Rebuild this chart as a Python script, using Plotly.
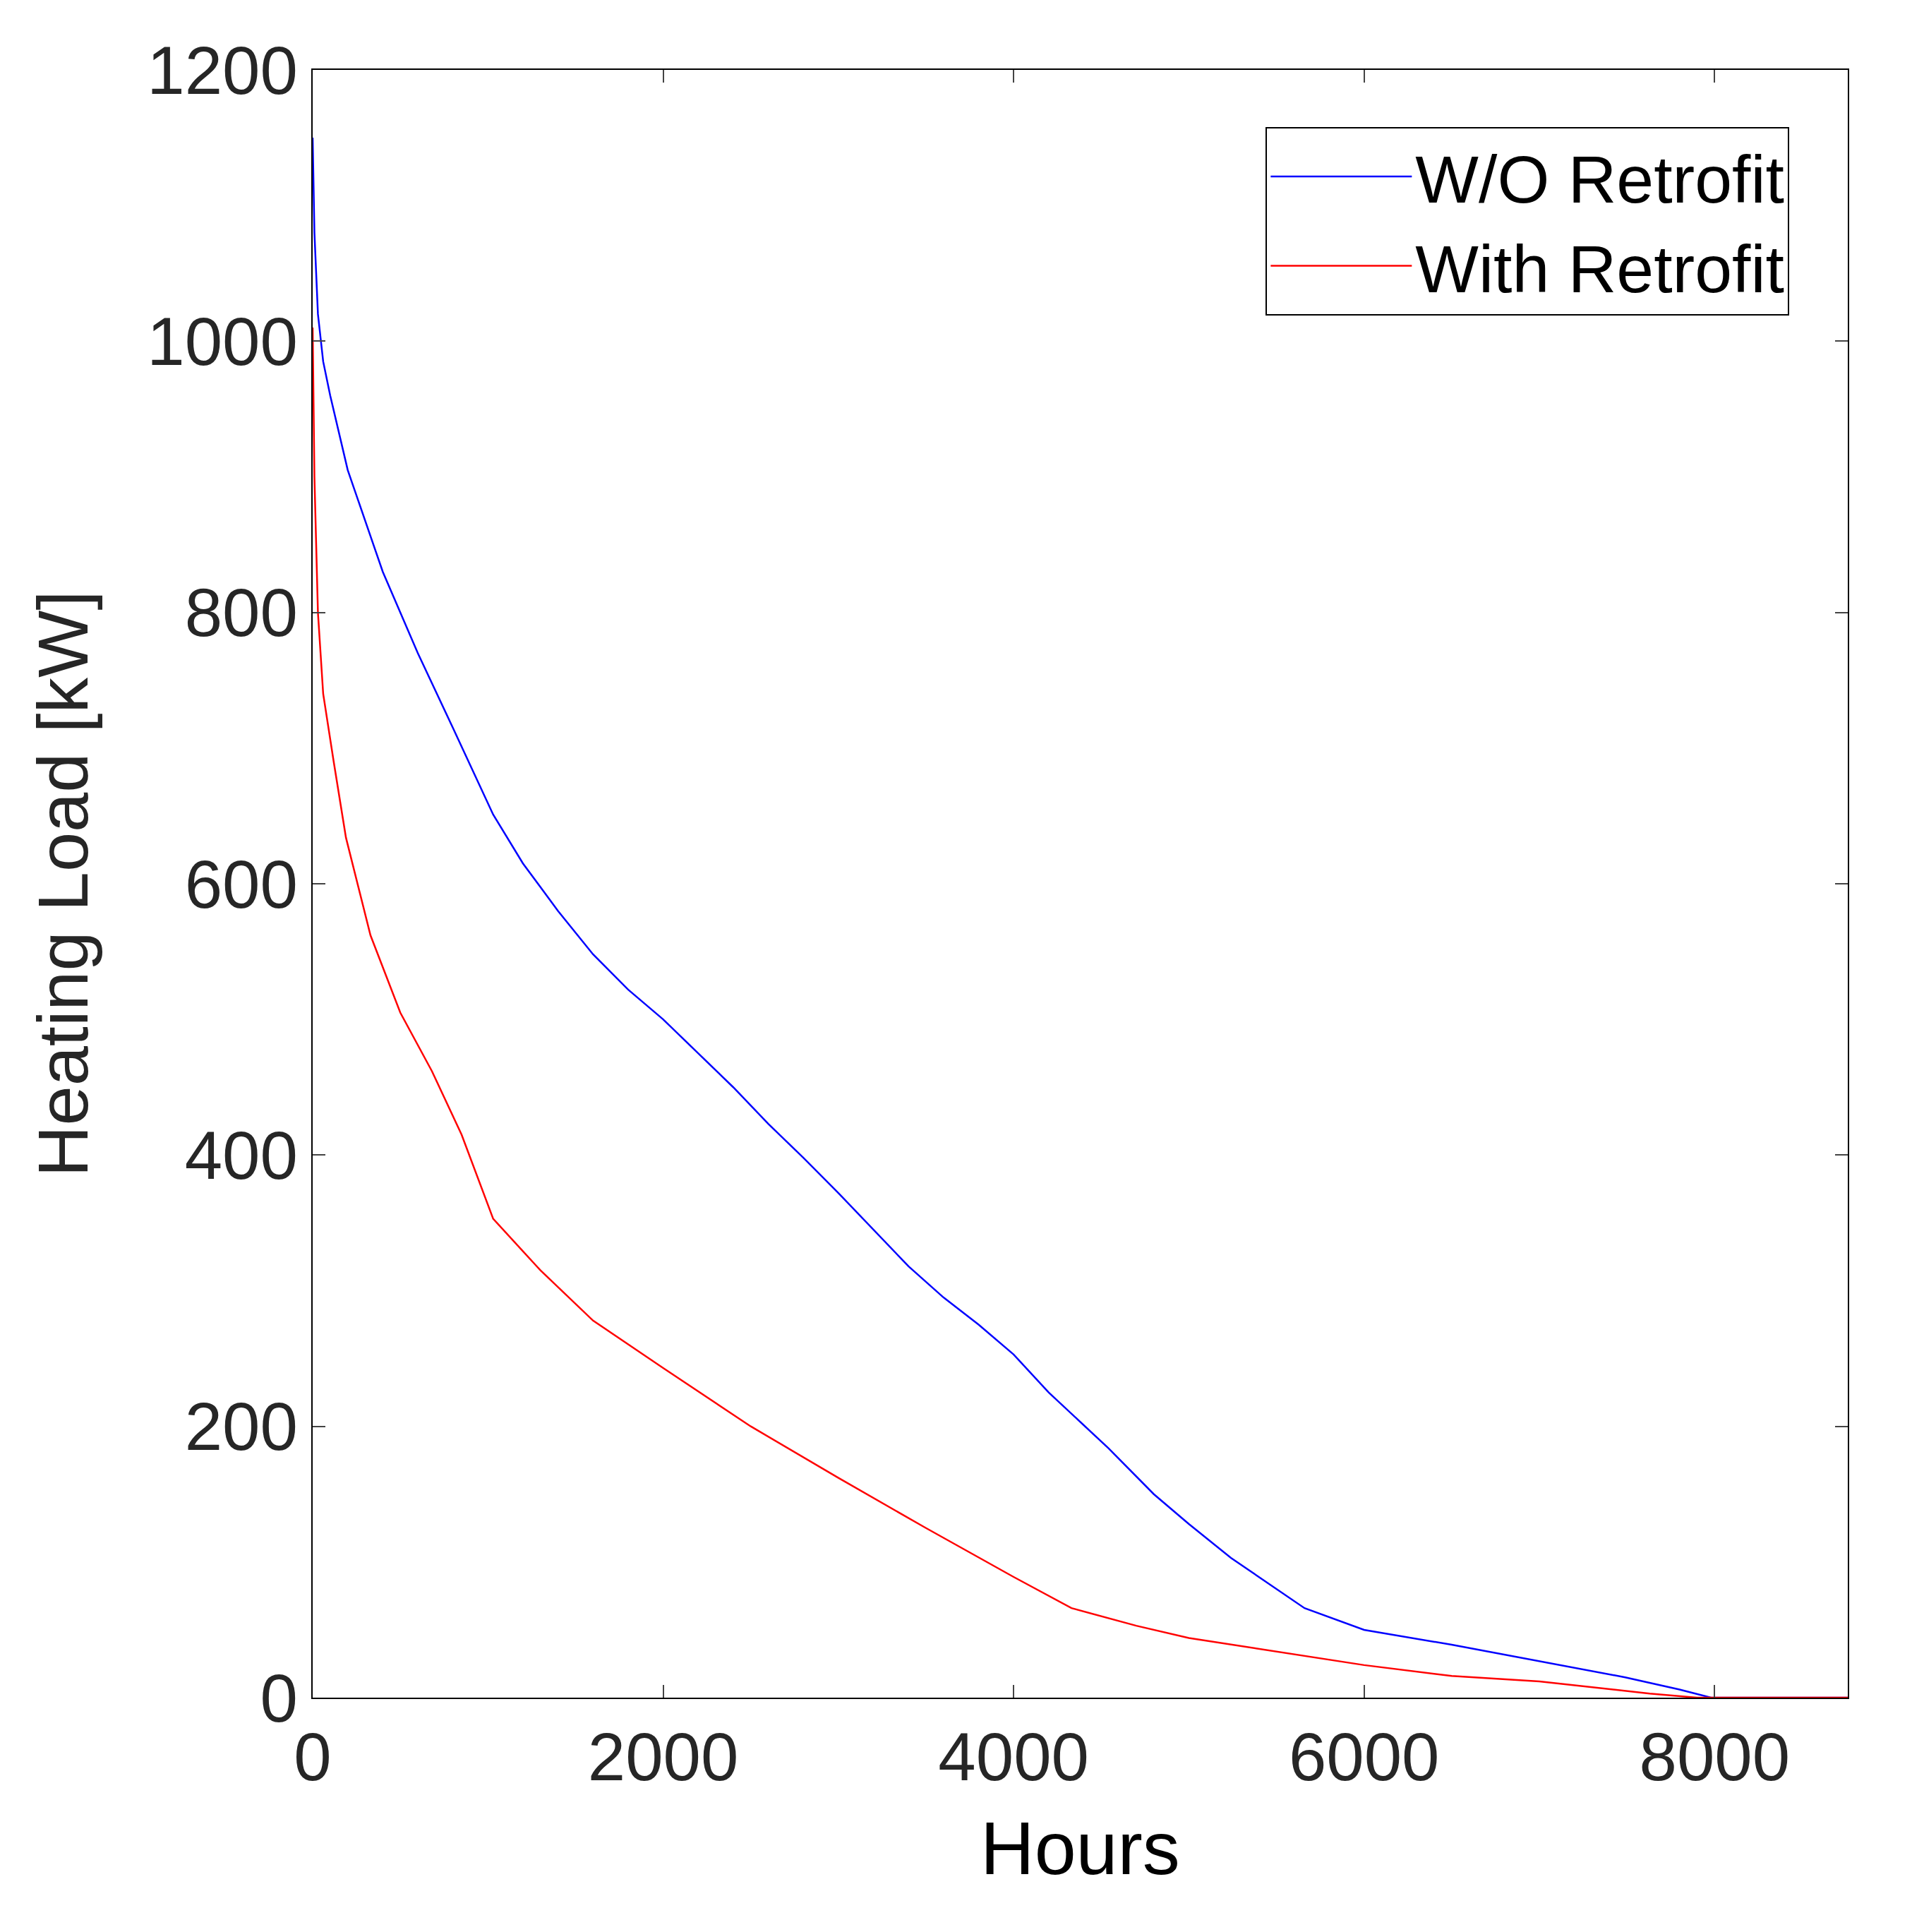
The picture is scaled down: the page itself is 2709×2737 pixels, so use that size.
import plotly.graph_objects as go

hours_blue = [0, 10, 30, 60, 100, 200, 400, 600, 800, 1030, 1200, 1400, 1600, 1800, 2000, 2200, 2400, 2600, 2800, 3000, 3200, 3400, 3600, 3800, 4000, 4200, 4540, 4800, 5000, 5240, 5660, 6000, 6500, 7000, 7490, 7800, 7980, 8760]
load_blue = [1150, 1080, 1020, 985, 960, 905, 830, 770, 715, 651, 615, 580, 548, 522, 500, 475, 450, 423, 398, 372, 345, 318, 295, 275, 253, 225, 184, 150, 128, 103, 66, 50, 39, 27, 15, 6, 0, 0]
hours_red = [0, 10, 30, 60, 120, 190, 330, 500, 680, 850, 1030, 1300, 1600, 2000, 2500, 3000, 3500, 4000, 4330, 4700, 5000, 5500, 6000, 6500, 7000, 7630, 7900, 8760]
load_red = [1010, 900, 800, 740, 690, 634, 562, 505, 462, 415, 353, 315, 278, 243, 200, 162, 125, 89, 66, 53, 44, 34, 24, 16, 12, 3, 0, 0]

fig = go.Figure()
fig.add_trace(go.Scatter(x=hours_blue, y=load_blue, mode="lines", name="W/O Retrofit", line=dict(color="blue", width=2.5)))
fig.add_trace(go.Scatter(x=hours_red, y=load_red, mode="lines", name="With Retrofit", line=dict(color="red", width=2.5)))

ax = dict(showline=True, linecolor="black", linewidth=2, mirror="ticks", ticks="inside", ticklen=18,
          tickwidth=2, showgrid=False, zeroline=False, tickfont=dict(size=96, family="Liberation Sans", color="#262626"))
fig.update_xaxes(range=[0, 8760], tickvals=[0, 2000, 4000, 6000, 8000],
                 title=dict(text="Hours", font=dict(size=106, family="Liberation Sans", color="black"), standoff=40), **ax)
fig.update_yaxes(range=[0, 1200], tickvals=[0, 200, 400, 600, 800, 1000, 1200],
                 title=dict(text="Heating Load [kW]", font=dict(size=101, family="Liberation Sans", color="#262626"), standoff=50), **ax)
fig.update_layout(width=2709, height=2737, plot_bgcolor="white", paper_bgcolor="white",
                  margin=dict(l=435, r=99, t=91, b=340),
                  legend=dict(x=0.962, y=0.965, xanchor="right", yanchor="top", bordercolor="black", borderwidth=2,
                              itemwidth=200,
                              font=dict(size=95, family="Liberation Sans", color="black"), bgcolor="white"))
fig.write_html("out.html")
